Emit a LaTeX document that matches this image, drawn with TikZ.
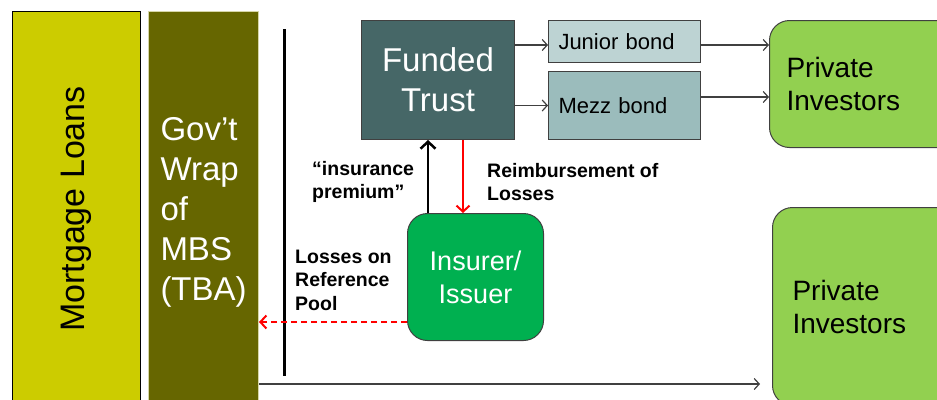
\documentclass[tikz,border=0pt]{standalone}
\usepackage{fontspec}
\setmainfont{Liberation Sans}
\usetikzlibrary{arrows.meta}

\definecolor{loanyellow}{HTML}{CCCC00}
\definecolor{wrapolive}{HTML}{666600}
\definecolor{wrapedge}{HTML}{D6D6A8}
\definecolor{trustslate}{HTML}{466767}
\definecolor{juniorgrey}{HTML}{BDD3D3}
\definecolor{mezzgrey}{HTML}{9BBCBC}
\definecolor{investgreen}{HTML}{92D050}
\definecolor{insurergreen}{HTML}{00B050}
\definecolor{edgegrey}{HTML}{404040}

\begin{document}
\begin{tikzpicture}[x=1pt,y=-1pt]
    \tikzset{block/.style   = {draw=edgegrey, line width=1pt,
        inner sep=0pt, anchor=north west},
      bond/.style     = {block, font=\fontsize{22}{26}\selectfont,
        minimum width=152pt, text width=132pt, inner xsep=10pt, align=left},
      investor/.style = {block, fill=investgreen, rounded corners=20pt,
        font=\fontsize{28}{33}\selectfont, align=left},
      link/.style     = {draw=edgegrey, line width=1.2pt,
        -{Straight Barb[length=5pt,width=11pt]}},
      redlink/.style  = {draw=red, line width=2pt,
        -{Straight Barb[length=6pt,width=13pt]}},
      note/.style     = {font=\fontsize{19.5}{23.5}\selectfont\bfseries,
        align=left, inner sep=0pt, anchor=west}}

    \useasboundingbox (0,0) rectangle (937,399);
    \clip (0,0) rectangle (937,399);

    % Draw the two tall columns.
    \node[block, draw=black, fill=loanyellow, minimum width=128pt,
      minimum height=395pt] (loans) at (12,11) {};
    \node[rotate=90, font=\fontsize{34}{40}\selectfont] (loanslbl)
      at (loans.center) {Mortgage Loans};
    \node[block, draw=wrapedge, fill=wrapolive, text=white,
      minimum height=402pt, text width=86pt, inner xsep=12pt, align=left,
      font=\fontsize{33}{40}\selectfont] (wrap) at (148,11)
      {Gov’t\\Wrap\\of\\MBS\\(TBA)};
    \draw[line width=3pt] (284,29) coordinate (bartop)
      -- (284,376) coordinate (barbot);

    % Draw the trust and its bonds.
    \node[block, fill=trustslate, text=white, minimum width=153pt,
      minimum height=119pt, align=center,
      font=\fontsize{33}{40}\selectfont] (trust) at (361,20)
      {Funded\\Trust};
    \node[bond, fill=juniorgrey, minimum height=42pt] (junior)
      at (548,20) {Junior bond};
    \node[bond, fill=mezzgrey, minimum height=68pt] (mezz)
      at (548,71) {Mezz bond};

    % Draw the investors and the insurer.
    \node[investor, minimum width=200pt, minimum height=127pt,
      text width=166pt, inner xsep=17pt] (topinv) at (769,20)
      {Private\\Investors};
    \node[investor, minimum width=200pt, minimum height=198pt,
      text width=160pt, inner xsep=20pt] (lowinv) at (772,207)
      {Private\\Investors};
    \node[block, fill=insurergreen, text=white, rounded corners=20pt,
      minimum width=136pt, minimum height=127pt, align=center,
      font=\fontsize{27}{33}\selectfont] (insurer) at (407,213)
      {Insurer/\\Issuer};

    % Draw the flows.
    \draw[link] (trust.east |- 0,45) -- (junior.west |- 0,45);
    \draw[link] (trust.east |- mezz.west) -- (mezz.west);
    \draw[link] (junior.east |- 0,45) -- (topinv.west |- 0,45);
    \draw[link] (mezz.east |- 0,97) -- (topinv.west |- 0,97);
    \draw[line width=2.5pt, -{Straight Barb[length=7pt,width=15pt]}]
      (insurer.north -| 428,0) -- (trust.south -| 428,0);
    \draw[redlink] (trust.south -| 463,0) -- (insurer.north -| 463,0);
    \draw[redlink, dash pattern=on 6pt off 4pt]
      (insurer.west |- 0,322) -- (wrap.east |- 0,322);
    \draw[link, shorten >=12pt] (wrap.east |- 0,384) -- (lowinv.west |- 0,384);

    % Labels on the flows.
    \node[note] (premium) at (312,182) {“insurance\\premium”};
    \node[note] (reimb) at (487,182) {Reimbursement of\\Losses};
    \node[note] (refpool) at (295,280) {Losses on\\Reference\\Pool};
\end{tikzpicture}
\end{document}
